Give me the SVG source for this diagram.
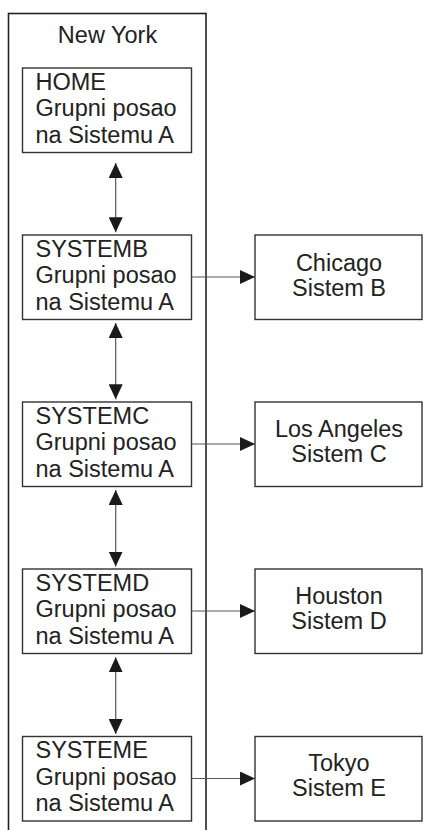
<svg xmlns="http://www.w3.org/2000/svg" width="423" height="830" viewBox="0 0 423 830">
<style>
.box{fill:#fff;stroke:#333;stroke-width:1.4}
.frame{fill:none;stroke:#222;stroke-width:1.6}
.t{font-family:"Liberation Sans",Arial,sans-serif;font-size:23.5px;fill:#222}
.c{text-anchor:middle}
.ln{stroke:#555;stroke-width:1.2;fill:none}
</style>
<defs>
<marker id="ah" viewBox="0 0 15 14" refX="15" refY="7" markerWidth="15" markerHeight="14" markerUnits="userSpaceOnUse" orient="auto-start-reverse">
<path d="M0,0 L15,7 L0,14 z" fill="#1a1a1a"/>
</marker>
</defs>
<rect width="423" height="830" fill="#fff"/>
<g id="newyork">
<rect class="frame" x="8.5" y="13.5" width="197.5" height="830"/>
<text class="t c" x="107.5" y="43">New York</text>
</g>
<g id="home">
<rect class="box" x="22.5" y="68" width="169" height="84.5"/>
<text class="t" x="35.5" y="89.5">HOME</text>
<text class="t" x="35.5" y="116">Grupni posao</text>
<text class="t" x="35.5" y="142.5">na Sistemu A</text>
</g>
<g id="systemb">
<rect class="box" x="22.5" y="235" width="169" height="84.5"/>
<text class="t" x="35.5" y="256.5">SYSTEMB</text>
<text class="t" x="35.5" y="283">Grupni posao</text>
<text class="t" x="35.5" y="309.5">na Sistemu A</text>
</g>
<g id="systemc">
<rect class="box" x="22.5" y="402" width="169" height="84.5"/>
<text class="t" x="35.5" y="423.5">SYSTEMC</text>
<text class="t" x="35.5" y="450">Grupni posao</text>
<text class="t" x="35.5" y="476.5">na Sistemu A</text>
</g>
<g id="systemd">
<rect class="box" x="22.5" y="569" width="169" height="84.5"/>
<text class="t" x="35.5" y="590.5">SYSTEMD</text>
<text class="t" x="35.5" y="617">Grupni posao</text>
<text class="t" x="35.5" y="643.5">na Sistemu A</text>
</g>
<g id="systeme">
<rect class="box" x="22.5" y="736.5" width="169" height="84.5"/>
<text class="t" x="35.5" y="758">SYSTEME</text>
<text class="t" x="35.5" y="784.5">Grupni posao</text>
<text class="t" x="35.5" y="811">na Sistemu A</text>
</g>
<g id="chicago">
<rect class="box" x="255" y="235" width="167" height="84.5"/>
<text class="t c" x="339" y="270.5">Chicago</text>
<text class="t c" x="339" y="295.5">Sistem B</text>
</g>
<g id="losangeles">
<rect class="box" x="255" y="402" width="167" height="84.5"/>
<text class="t c" x="339" y="436.5">Los Angeles</text>
<text class="t c" x="339" y="461.5">Sistem C</text>
</g>
<g id="houston">
<rect class="box" x="255" y="569" width="167" height="84.5"/>
<text class="t c" x="339" y="603.5">Houston</text>
<text class="t c" x="339" y="628.5">Sistem D</text>
</g>
<g id="tokyo">
<rect class="box" x="255" y="736.5" width="167" height="84.5"/>
<text class="t c" x="339" y="771">Tokyo</text>
<text class="t c" x="339" y="796">Sistem E</text>
</g>
<g id="connectors">
<line class="ln" x1="115.7" y1="163" x2="115.7" y2="232.3" marker-start="url(#ah)" marker-end="url(#ah)"/>
<line class="ln" x1="115.7" y1="323" x2="115.7" y2="399.3" marker-start="url(#ah)" marker-end="url(#ah)"/>
<line class="ln" x1="115.7" y1="490" x2="115.7" y2="566.5" marker-start="url(#ah)" marker-end="url(#ah)"/>
<line class="ln" x1="115.7" y1="657.3" x2="115.7" y2="734" marker-start="url(#ah)" marker-end="url(#ah)"/>
<line class="ln" x1="191.5" y1="277" x2="255" y2="277" marker-end="url(#ah)"/>
<line class="ln" x1="191.5" y1="444" x2="255" y2="444" marker-end="url(#ah)"/>
<line class="ln" x1="191.5" y1="611" x2="255" y2="611" marker-end="url(#ah)"/>
<line class="ln" x1="191.5" y1="778.5" x2="255" y2="778.5" marker-end="url(#ah)"/>
</g>
</svg>
